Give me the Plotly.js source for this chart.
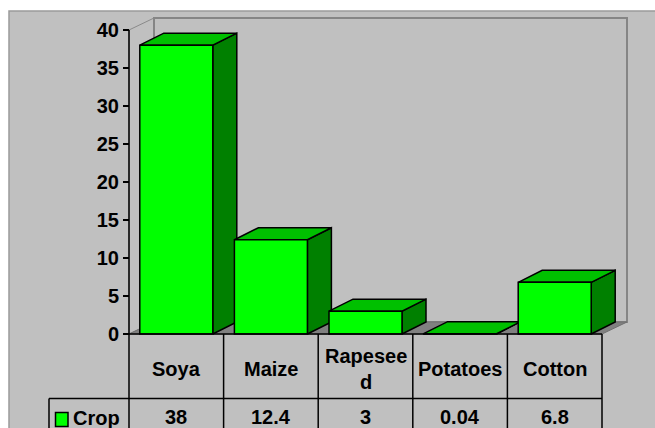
<!DOCTYPE html>
<html>
<head>
<meta charset="utf-8">
<script src="https://cdn.plot.ly/plotly-3.0.1.min.js"></script>
<style>html,body{margin:0;padding:0;background:#fff;}#chart{width:655px;height:428px;}</style>
</head>
<body>
<div id="chart"></div>
<script>
// ---- data ----
const categories = ['Soya', 'Maize', 'Rapeseed', 'Potatoes', 'Cotton'];
const categoryLabels = ['Soya', 'Maize', 'Rapesee<br>d', 'Potatoes', 'Cotton'];
const seriesName = 'Crop';
const cropValues = [38, 12.4, 3, 0.04, 6.8];
const valueLabels = ['38', '12.4', '3', '0.04', '6.8'];
const yTickVals = [0, 5, 10, 15, 20, 25, 30, 35, 40];
const yMax = 40;

// ---- geometry (pixel layout of the 655x428 canvas) ----
const W = 655, H = 428;
const AXIS_PX = 129, CAT_PX = 94.6;   // front-left corner x, pixels per category
const ZERO_PX = 334, UNIT_PX = 7.6;   // y pixel of value 0, pixels per unit
const xp = p => -0.5 + (p - AXIS_PX) / CAT_PX;
const yp = p => (ZERO_PX - p) / UNIT_PX;
const WALL_DX = 25 / CAT_PX, WALL_DY = 12 / UNIT_PX;
const BAR_DX = 24 / CAT_PX, BAR_DY = 12 / UNIT_PX;
const BAR_W = 73 / CAT_PX;
const n = categories.length;
const xLeft = -0.5, xRight = n - 0.5;

const FRONT = '#00FF00', TOP = '#00C000', SIDE = '#008000';
const fontFam = 'Liberation Sans, Arial, Helvetica, sans-serif';
const FS = 20;

// ---- 3D faces (side + top) per bar, in left-to-right order ----
const traces = [];
cropValues.forEach((v, i) => {
  const L = i - BAR_W / 2, R = i + BAR_W / 2;
  traces.push({
    type: 'scatter', mode: 'lines', fill: 'toself', fillcolor: SIDE,
    x: [R, R + BAR_DX, R + BAR_DX, R, R],
    y: [0, BAR_DY, v + BAR_DY, v, 0],
    line: {color: '#000', width: 1.5}, hoverinfo: 'skip', showlegend: false,
    xaxis: 'x', yaxis: 'y'
  });
  traces.push({
    type: 'scatter', mode: 'lines', fill: 'toself', fillcolor: TOP,
    x: [L, R, R + BAR_DX, L + BAR_DX, L],
    y: [v, v, v + BAR_DY, v + BAR_DY, v],
    line: {color: '#000', width: 1.5}, hoverinfo: 'skip', showlegend: false,
    xaxis: 'x', yaxis: 'y'
  });
});
// front faces as a real bar trace on an overlaid (identical) subplot
traces.push({
  type: 'bar', name: seriesName,
  x: categories.map((c, i) => i), y: cropValues,
  width: BAR_W,
  marker: {color: FRONT, line: {color: '#000', width: 1.5}},
  xaxis: 'x2', yaxis: 'y2', showlegend: false, hoverinfo: 'skip'
});

const xr = [xp(0), xp(W)], yr = [yp(H), yp(0)];

const shapes = [];
// chart area background
shapes.push({type: 'rect', layer: 'below', xref: 'x', yref: 'y',
  x0: xp(9), x1: xp(W + 20), y0: yp(H + 20), y1: yp(11),
  fillcolor: '#C0C0C0', line: {color: '#9A9A9A', width: 1.5}});
// left side wall
shapes.push({type: 'path', layer: 'below', xref: 'x', yref: 'y',
  path: `M${xLeft},0 L${xLeft},${yMax} L${xLeft + WALL_DX},${yMax + WALL_DY} L${xLeft + WALL_DX},${WALL_DY} Z`,
  fillcolor: '#C0C0C0', line: {color: '#8A8A8A', width: 1}});
// back wall
shapes.push({type: 'rect', layer: 'below', xref: 'x', yref: 'y',
  x0: xLeft + WALL_DX, x1: xRight + WALL_DX, y0: WALL_DY, y1: yMax + WALL_DY,
  fillcolor: '#C0C0C0', line: {color: '#858585', width: 2}});
// floor
shapes.push({type: 'path', layer: 'below', xref: 'x', yref: 'y',
  path: `M${xLeft},0 L${xRight},0 L${xRight + WALL_DX},${WALL_DY} L${xLeft + WALL_DX},${WALL_DY} Z`,
  fillcolor: '#808080', line: {color: '#707070', width: 1}});
// value axis line
shapes.push({type: 'line', layer: 'above', xref: 'x', yref: 'y',
  x0: xLeft, x1: xLeft, y0: yr[0] - 1, y1: yMax, line: {color: '#000', width: 1.5}});
// floor front edge / table top
shapes.push({type: 'line', layer: 'above', xref: 'x', yref: 'y',
  x0: xLeft, x1: xRight, y0: 0, y1: 0, line: {color: '#000', width: 1.5}});
// table column separators
for (let k = 1; k <= n; k++) {
  shapes.push({type: 'line', layer: 'above', xref: 'x', yref: 'y',
    x0: xLeft + k, x1: xLeft + k, y0: yr[0] - 1, y1: 0, line: {color: '#000', width: 1.5}});
}
// header / value row separator
shapes.push({type: 'line', layer: 'above', xref: 'x', yref: 'y',
  x0: xp(49), x1: xRight, y0: yp(398.5), y1: yp(398.5), line: {color: '#000', width: 1.5}});
// legend cell left edge
shapes.push({type: 'line', layer: 'above', xref: 'x', yref: 'y',
  x0: xp(49), x1: xp(49), y0: yr[0] - 1, y1: yp(398.5), line: {color: '#000', width: 1.5}});
// legend key
shapes.push({type: 'rect', layer: 'above', xref: 'x', yref: 'y',
  x0: xp(55.5), x1: xp(68), y0: yp(426.5), y1: yp(412.5),
  fillcolor: FRONT, line: {color: '#000', width: 1.5}});

const annotations = [];
const tfont = {family: fontFam, size: FS, color: '#000', weight: 'bold'};
categoryLabels.forEach((c, i) => {
  annotations.push({xref: 'x', yref: 'y', x: i, y: yp(368.5), text: c, showarrow: false,
    font: tfont, xanchor: 'center', yanchor: 'middle', align: 'center'});
});
valueLabels.forEach((t, i) => {
  annotations.push({xref: 'x', yref: 'y', x: i, y: yp(416.5), text: t, showarrow: false,
    font: tfont, xanchor: 'center', yanchor: 'middle'});
});
annotations.push({xref: 'x', yref: 'y', x: xp(71), y: yp(418), text: seriesName, showarrow: false,
  font: tfont, xanchor: 'left', yanchor: 'middle'});

const layout = {
  width: W, height: H,
  margin: {l: 0, r: 0, t: 0, b: 0, pad: 0},
  paper_bgcolor: '#FFFFFF', plot_bgcolor: 'rgba(0,0,0,0)',
  showlegend: false,
  font: {family: fontFam, size: FS, color: '#000', weight: 'bold'},
  xaxis: {range: xr, visible: false, fixedrange: true},
  yaxis: {range: yr, anchor: 'free', position: AXIS_PX / W,
    tickmode: 'array', tickvals: yTickVals, ticktext: yTickVals.map(String),
    ticks: 'outside', ticklen: 6, tickwidth: 1.5, tickcolor: '#000',
    showgrid: false, zeroline: false, showline: false,
    tickfont: {family: fontFam, size: FS, color: '#000', weight: 'bold'}, fixedrange: true},
  xaxis2: {range: xr, visible: false, overlaying: 'x', fixedrange: true},
  yaxis2: {range: yr, visible: false, overlaying: 'y', anchor: 'x2', fixedrange: true},
  shapes: shapes,
  annotations: annotations
};

Plotly.newPlot('chart', traces, layout, {staticPlot: true, displayModeBar: false});
</script>
</body>
</html>
